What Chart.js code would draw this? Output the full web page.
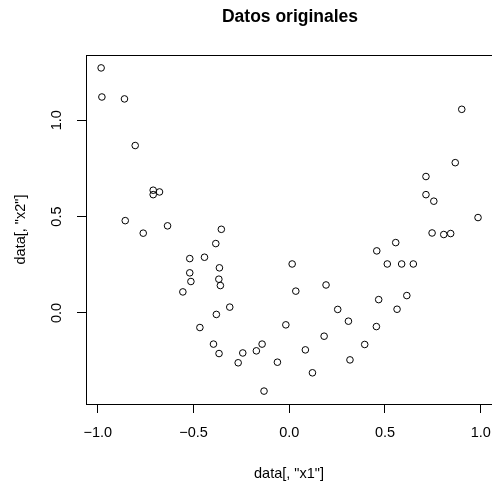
<!DOCTYPE html>
<html>
<head>
<meta charset="utf-8">
<script src="https://cdn.jsdelivr.net/npm/chart.js@4.4.1/dist/chart.umd.min.js"></script>
<style>
html,body{margin:0;padding:0;background:#fff;overflow:hidden;}
#wrap{width:492px;height:489px;position:relative;}
</style>
</head>
<body>
<div id="wrap"><canvas id="c" width="492" height="489"></canvas></div>
<script>
const chartTitle = "Datos originales";
const xLabel = 'data[, "x1"]';
const yLabel = 'data[, "x2"]';
const x1 = [-0.983,-0.979,-0.861,-0.805,-0.711,-0.711,-0.678,-0.857,-0.636,-0.355,
            -0.763,-0.384,-0.520,-0.443,-0.365,-0.520,-0.514,-0.368,-0.360,-0.556,
            -0.311,-0.381,-0.467,-0.396,-0.367,-0.243,-0.267,-0.142,-0.172,-0.132,
             0.015, 0.034,-0.018,-0.062, 0.084, 0.121, 0.192, 0.182, 0.253, 0.901,
             0.867, 0.714, 0.714, 0.755, 0.986, 0.746, 0.807, 0.843, 0.556, 0.457,
             0.512, 0.587, 0.648, 0.467, 0.614, 0.563, 0.309, 0.455, 0.394, 0.317];
const x2 = [ 1.272, 1.121, 1.111, 0.869, 0.637, 0.614, 0.628, 0.479, 0.452, 0.434,
             0.414, 0.360, 0.282, 0.289, 0.234, 0.208, 0.163, 0.175, 0.142, 0.109,
             0.030,-0.008,-0.076,-0.162,-0.211,-0.208,-0.259,-0.162,-0.197,-0.406,
             0.254, 0.113,-0.062,-0.256,-0.192,-0.311, 0.145,-0.121, 0.018, 1.057,
             0.780, 0.708, 0.614, 0.580, 0.495, 0.415, 0.407, 0.412, 0.365, 0.322,
             0.254, 0.254, 0.254, 0.069, 0.090, 0.019,-0.043,-0.071,-0.164,-0.244];
const xTicks = [-1.0,-0.5,0.0,0.5,1.0];
const yTicks = [0.0,0.5,1.0];

const FONT = '"Liberation Sans", Arial, Helvetica, sans-serif';
Chart.defaults.font.family = FONT;
Chart.defaults.color = '#000';

const points = x1.map((v,i)=>({x:v,y:x2[i]}));

const boxPlugin = {
  id:'boxPlugin',
  afterDraw(chart){
    const {ctx, chartArea:a} = chart;
    ctx.save();
    ctx.strokeStyle = '#000';
    ctx.lineWidth = 1;
    ctx.beginPath();
    ctx.moveTo(a.left, a.top+0.5);
    ctx.lineTo(a.right, a.top+0.5);
    ctx.stroke();
    ctx.fillStyle = '#000';
    ctx.font = 'bold 17.5px ' + FONT;
    ctx.textAlign = 'center';
    ctx.textBaseline = 'middle';
    ctx.fillText(chartTitle, 290, 17.5);
    ctx.restore();
  }
};

new Chart(document.getElementById('c'), {
  type:'scatter',
  data:{datasets:[{data:points, showLine:false, pointStyle:'circle',
    pointRadius:3.3, pointHoverRadius:3.3, borderWidth:1, borderColor:'#000',
    backgroundColor:'rgba(0,0,0,0)'}]},
  options:{
    responsive:false, animation:false,
    layout:{autoPadding:false, padding:{top:55,left:0,right:0,bottom:0}},
    plugins:{legend:{display:false}, tooltip:{enabled:false}, title:{display:false}},
    scales:{
      x:{type:'linear', min:-1.062, max:1.059,
        afterBuildTicks:s=>{s.ticks = xTicks.map(v=>({value:v}));},
        afterFit:s=>{s.height = 85; s.paddingLeft = 0; s.paddingRight = 0;},
        grid:{drawOnChartArea:false, drawTicks:true, tickLength:9, color:'#000', lineWidth:1},
        border:{display:true, color:'#000', width:1},
        ticks:{font:{size:14.5}, padding:11, maxRotation:0, minRotation:0, callback:v=>v.toFixed(1).replace('-','\u2212')},
        title:{display:true, text:xLabel, font:{size:14.5}, padding:{top:0,bottom:6.3}}
      },
      y:{type:'linear', min:-0.473, max:1.339,
        afterBuildTicks:s=>{s.ticks = yTicks.map(v=>({value:v}));},
        afterFit:s=>{s.width = 86; s.paddingTop = 0; s.paddingBottom = 0;},
        grid:{drawOnChartArea:false, drawTicks:true, tickLength:9, color:'#000', lineWidth:1},
        border:{display:true, color:'#000', width:1},
        ticks:{font:{size:14.5}, padding:10, minRotation:90, maxRotation:90, crossAlign:'center', callback:v=>v.toFixed(1)},
        title:{display:true, text:yLabel, font:{size:14.5}, padding:{top:12.3,bottom:0}}
      }
    }
  },
  plugins:[boxPlugin]
});
</script>
</body>
</html>
